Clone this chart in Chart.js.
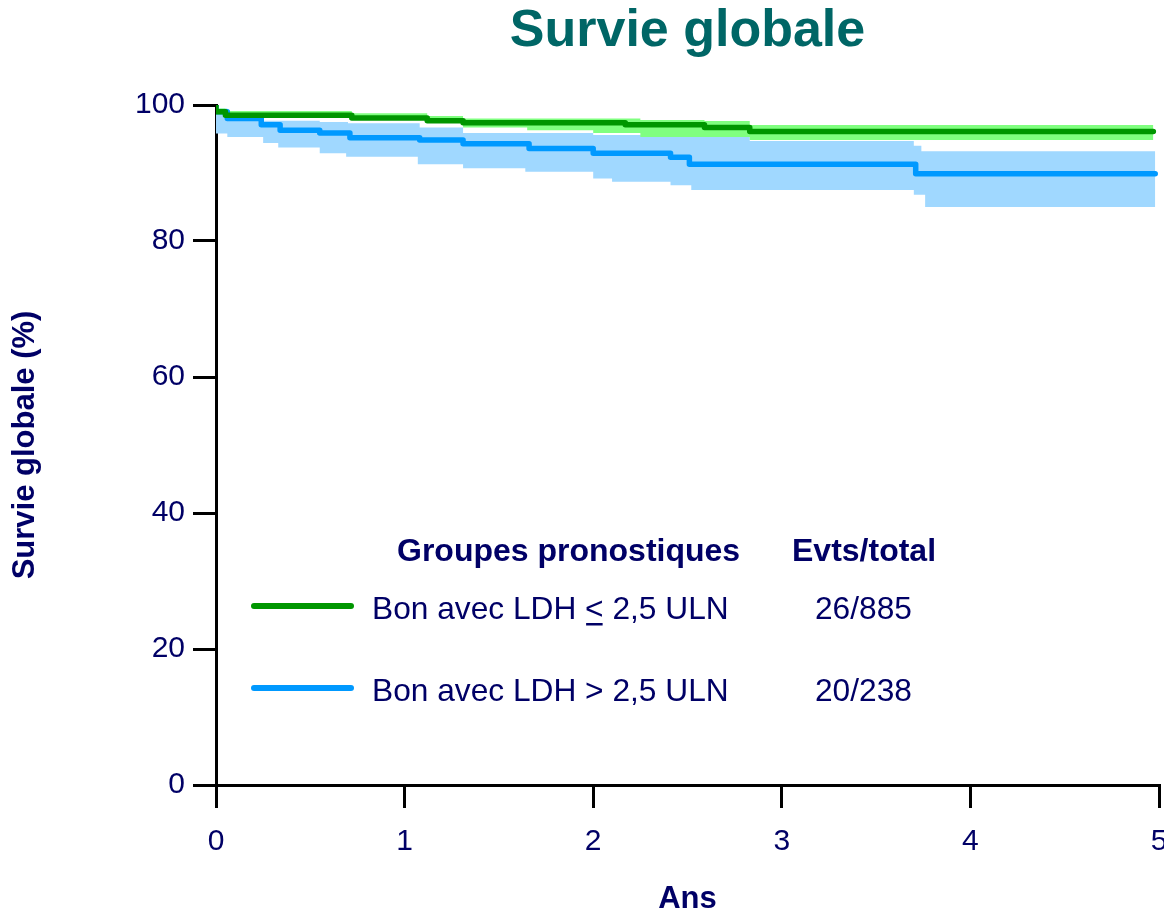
<!DOCTYPE html>
<html>
<head>
<meta charset="utf-8">
<script src="https://cdn.jsdelivr.net/npm/chart.js"></script>
<style>
  html, body { margin: 0; padding: 0; background: #fff; overflow: hidden; }
  #wrap { width: 1164px; height: 915px; }
</style>
</head>
<body>
<div id="wrap"><canvas id="km" width="1164" height="915"></canvas></div>
<script>
// Kaplan-Meier steps (time in years, survival in %)
const greenTime = [0, 0.05, 0.72, 1.12, 1.31, 2.17, 2.59, 2.83, 3.96, 4.97];
const greenSurv = [100, 99.0, 98.5, 98.1, 97.7, 97.4, 97.1, 96.7, 96.1, 96.1];
const greenUpTime = [0, 0.05, 0.72, 1.12, 1.31, 2.25, 2.59, 2.83, 4.18, 4.97];
const greenUpSurv = [100, 99.5, 99.1, 98.8, 98.4, 98.0, 97.8, 97.65, 97.05, 97.05];
const greenLowTime = [0, 0.05, 0.72, 1.12, 1.31, 1.65, 2.00, 2.25, 2.83, 3.96, 4.97];
const greenLowSurv = [100, 98.6, 98.2, 97.8, 97.4, 96.7, 96.3, 95.9, 95.3, 94.85, 94.85];

const blueTime = [0, 0.06, 0.24, 0.34, 0.55, 0.71, 1.08, 1.31, 1.66, 2.00, 2.41, 2.51, 3.71, 4.38, 4.98];
const blueSurv = [100, 99.0, 98.0, 97.1, 96.3, 95.9, 95.2, 94.85, 94.3, 93.6, 92.9, 92.3, 91.3, 89.9, 89.9];
const blueUpTime = [0, 0.06, 0.24, 0.55, 0.70, 1.08, 1.31, 2.00, 2.27, 2.41, 2.83, 3.70, 3.74, 4.41, 4.98];
const blueUpSurv = [100, 99.5, 98.6, 97.7, 97.5, 97.3, 96.7, 95.9, 95.6, 95.4, 95.3, 94.7, 94.0, 93.2, 93.2];
const blueLowTime = [0, 0.06, 0.25, 0.33, 0.55, 0.69, 1.07, 1.31, 1.64, 2.00, 2.10, 2.41, 2.52, 3.70, 3.76, 4.41, 4.98];
const blueLowSurv = [100, 95.8, 95.3, 94.4, 93.75, 92.9, 92.4, 91.3, 90.7, 90.2, 89.2, 88.7, 88.2, 87.5, 86.8, 85.0, 85.0];

const groupLabels = ['Bon avec LDH ≤ 2,5 ULN', 'Bon avec LDH > 2,5 ULN'];
const eventCounts = ['26/885', '20/238'];
const legendHeaders = ['Groupes pronostiques', 'Evts/total'];
const yTicks = [0, 20, 40, 60, 80, 100];
const xTicks = [0, 1, 2, 3, 4, 5];

const FONT = '"Liberation Sans", Arial, sans-serif';
const navy = '#000066';
const green = '#009600';
const greenBand = '#80ff80';
const blue = '#0099ff';
const blueBand = '#a0d8ff';

function pts(t, s) {
    return t.map((x, i) => ({ x: x, y: s[i] }));
}

function lineSet(label, t, s, color) {
    return {
        label: label,
        data: pts(t, s),
        borderColor: color,
        borderWidth: 5.5,
        borderCapStyle: 'round',
        borderJoinStyle: 'round',
        stepped: 'after',
        pointRadius: 0,
        fill: false
    };
}

function bandSet(label, t, s, color, fill) {
    return {
        label: label,
        data: pts(t, s),
        borderColor: 'transparent',
        borderWidth: 0,
        backgroundColor: color,
        stepped: 'after',
        pointRadius: 0,
        fill: fill
    };
}

// custom legend drawn on top, like the original table
const kmLegend = {
    id: 'kmLegend',
    afterDraw(chart) {
        const ctx = chart.ctx;
        ctx.save();
        ctx.fillStyle = navy;
        ctx.textBaseline = 'middle';
        ctx.font = 'bold 32px ' + FONT;
        ctx.fillText(legendHeaders[0], 397, 552);
        ctx.fillText(legendHeaders[1], 792, 552);

        const rows = [610, 692];
        const colors = [green, blue];
        ctx.lineCap = 'round';
        ctx.lineWidth = 6;
        rows.forEach((y, i) => {
            ctx.strokeStyle = colors[i];
            ctx.beginPath();
            ctx.moveTo(254, y - 4);
            ctx.lineTo(351, y - 4);
            ctx.stroke();
        });

        ctx.font = '31.7px ' + FONT;
        rows.forEach((y, i) => {
            const label = groupLabels[i];
            if (label.includes('≤')) {
                const parts = label.split('≤');
                let x = 372;
                ctx.fillText(parts[0], x, y);
                x += ctx.measureText(parts[0]).width;
                const w = ctx.measureText('<').width;
                ctx.fillText('<', x, y);
                ctx.fillRect(x + 1, y + 13, w - 2, 2.5);
                x += w;
                ctx.fillText(parts[1], x, y);
            } else {
                ctx.fillText(label, 372, y);
            }
            ctx.fillText(eventCounts[i], 815, y);
        });
        ctx.restore();
    }
};

new Chart(document.getElementById('km'), {
    type: 'line',
    data: {
        datasets: [
            lineSet(groupLabels[0], greenTime, greenSurv, green),
            lineSet(groupLabels[1], blueTime, blueSurv, blue),
            bandSet('IC sup 1', greenUpTime, greenUpSurv, greenBand, '+1'),
            bandSet('IC inf 1', greenLowTime, greenLowSurv, greenBand, false),
            bandSet('IC sup 2', blueUpTime, blueUpSurv, blueBand, '+1'),
            bandSet('IC inf 2', blueLowTime, blueLowSurv, blueBand, false)
        ]
    },
    options: {
        responsive: false,
        animation: false,
        events: [],
        layout: { padding: { left: 0, right: 5, top: 0, bottom: 0 } },
        plugins: {
            legend: { display: false },
            tooltip: { enabled: false },
            title: {
                display: true,
                text: 'Survie globale',
                color: '#006666',
                fullSize: false,
                font: { family: FONT, size: 52, weight: 'bold', lineHeight: 1 },
                padding: { top: 6, bottom: 47 }
            }
        },
        scales: {
            x: {
                type: 'linear',
                min: 0,
                max: 5,
                afterBuildTicks: (scale) => { scale.ticks = xTicks.map(v => ({ value: v })); },
                afterFit: (scale) => { scale.height = 130; scale.paddingLeft = 0; scale.paddingRight = 0; },
                ticks: {
                    color: navy,
                    font: { family: FONT, size: 30 },
                    padding: 16,
                    maxRotation: 0,
                    autoSkip: false
                },
                grid: { drawOnChartArea: false, drawTicks: true, tickLength: 23, color: '#000', lineWidth: 3 },
                border: { display: true, color: '#000', width: 3 },
                title: {
                    display: true,
                    text: 'Ans',
                    color: navy,
                    font: { family: FONT, size: 31, weight: 'bold', lineHeight: 1 },
                    padding: 0
                }
            },
            y: {
                min: 0,
                max: 100,
                afterBuildTicks: (scale) => { scale.ticks = yTicks.map(v => ({ value: v })); },
                afterFit: (scale) => { scale.width = 216; scale.paddingTop = 0; scale.paddingBottom = 0; },
                ticks: {
                    color: navy,
                    font: { family: FONT, size: 30 },
                    padding: 8
                },
                grid: { drawOnChartArea: false, drawTicks: true, tickLength: 23, color: '#000', lineWidth: 3 },
                border: { display: true, color: '#000', width: 3 },
                title: {
                    display: true,
                    text: 'Survie globale (%)',
                    color: navy,
                    font: { family: FONT, size: 31, weight: 'bold', lineHeight: 1 },
                    padding: { top: 10, bottom: 0 }
                }
            }
        }
    },
    plugins: [kmLegend]
});
</script>
</body>
</html>
